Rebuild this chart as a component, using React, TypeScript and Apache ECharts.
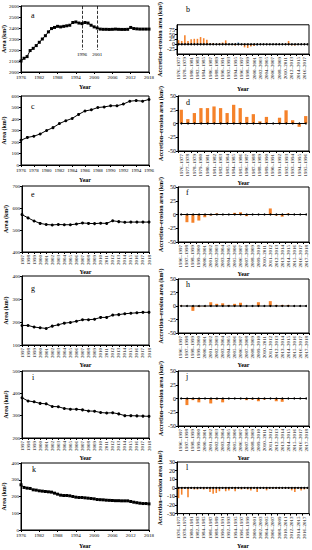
import React, { useEffect, useRef } from "react";
import * as echarts from "echarts";

const FONT = "Liberation Serif";

const yearsLong = ["1976","1977","1978","1979","1980","1981","1982","1983","1984","1985","1986","1987","1988","1989","1990","1991","1992","1993","1994","1995","1996","1997","1998","1999","2000","2001","2002","2003","2004","2005","2006","2007","2008","2009","2010","2011","2012","2013","2014","2015","2016","2017","2018"];
const pairsLong = ["1976–1977","1977–1978","1978–1979","1979–1980","1980–1981","1981–1982","1982–1983","1983–1984","1984–1985","1985–1986","1986–1987","1987–1988","1988–1989","1989–1990","1990–1991","1991–1992","1992–1993","1993–1994","1994–1995","1995–1996","1996–1997","1997–1998","1998–1999","1999–2000","2000–2001","2001–2002","2002–2003","2003–2004","2004–2005","2005–2006","2006–2007","2007–2008","2008–2009","2009–2010","2010–2011","2011–2012","2012–2013","2013–2014","2014–2015","2015–2016","2016–2017","2017–2018"];
const yearsEarly = ["1976","1977","1978","1979","1980","1981","1982","1983","1984","1985","1986","1987","1988","1989","1990","1991","1992","1993","1994","1995","1996"];
const pairsEarly = ["1976–1977","1977–1978","1978–1979","1979–1980","1980–1981","1981–1982","1982–1983","1983–1984","1984–1985","1985–1986","1986–1987","1987–1988","1988–1989","1989–1990","1990–1991","1991–1992","1992–1993","1993–1994","1994–1995","1995–1996"];
const yearsLate = ["1997","1998","1999","2000","2001","2002","2003","2004","2005","2006","2007","2008","2009","2010","2011","2012","2013","2014","2015","2016","2017","2018"];
const pairsLate = ["1996–1997","1997–1998","1998–1999","1999–2000","2000–2001","2001–2002","2002–2003","2003–2004","2004–2005","2005–2006","2006–2007","2007–2008","2008–2009","2009–2010","2010–2011","2011–2012","2012–2013","2013–2014","2014–2015","2015–2016","2016–2017","2017–2018"];

const areaA = [2100,2125,2140,2195,2215,2240,2270,2300,2330,2365,2395,2405,2415,2410,2415,2420,2425,2450,2455,2445,2440,2450,2445,2425,2410,2400,2390,2388,2388,2387,2388,2390,2388,2387,2387,2388,2405,2395,2392,2390,2390,2390,2390];
const changeB = [21,17,46,17,26,28,28,37,31,23,7,7,-4,5,9,20,0,0,-7,9,0,-16,-19,-11,-9,-7,-1,-1,1,-1,1,-3,1,-1,1,17,-6,-6,-1,-1,0,0];
const blueB = ["1995–1996","2001–2002"];
const areaC = [215,240,250,270,300,325,360,385,405,440,470,480,500,505,515,515,530,555,560,555,570];
const changeD = [25,8,19,28,28,31,28,19,34,28,12,17,4,12,0,10.5,24,6,-6,13.5];
const areaE = [570,555,541,530,525,523,525,524,524,527,532,530,529,531,530,542,538,535,536,536,536,536];
const changeF = [0,-14,-15,-11,-5,-2,2,-1,0,3,4,-3,0,0,-1,11,-2,-4,2,0,0,0];
const areaG = [185,185,178,175,172,182,188,195,198,203,210,210,212,220,220,230,232,236,238,240,242,242];
const changeH = [1,0,-9,-2,-1,7,4,5,2,4,6,0,0,7,0,9,2,2,2,0,0,0];
const areaI = [380,366,362,355,353,341,340,332,329,329,326,321,320,314,312,313,308,300,300,299,298,297];
const changeJ = [0,-12,-3,-7,-1,-9,-2,-7,-1,0,-1,-3,-2,-5,-2,0,-5,-6,0,0,-1,0];
const areaK = [270,254,250,248,240,238,234,232,230,228,226,220,214,208,206,206,204,200,196,194,194,192,190,188,186,182,181,180,178,177,176,175,175,174,174,174,170,166,163,160,158,158,156];
const changeL = [-12,-8,-1,-11,-1,-2,-2,-1,-2,-1,-5,-7,-6,-4,-1,-4,-3,-1,-4,-1,-2,-1,-2,-3,-1,-5,-1,-1,-3,-1,-1,-1,-1,-1,-1,-1,-3,-5,-1,-3,-2,-1];

const panelLetters = ["a","b","c","d","e","f","g","h","i","j","k","l"];
const markYears = ["1996","2001"];

const ORANGE = "#F5822A";
const BLUE = "#4A8BD0";

export default function App() {
  const ref = useRef<HTMLDivElement>(null);
  useEffect(() => {
    if (!ref.current) return;
    const chart = echarts.init(ref.current, undefined, { renderer: "svg" });

    const grids = [
      { left: 21, top: 6, width: 128, height: 66 },
      { left: 177, top: 3, width: 132, height: 51 },
      { left: 21, top: 96, width: 128, height: 69 },
      { left: 178, top: 96, width: 131, height: 55 },
      { left: 22, top: 186, width: 127, height: 66 },
      { left: 178, top: 187, width: 131, height: 55 },
      { left: 22, top: 276, width: 127, height: 69 },
      { left: 178, top: 279, width: 131, height: 54 },
      { left: 22, top: 371, width: 127, height: 67 },
      { left: 178, top: 371, width: 131, height: 55 },
      { left: 21, top: 463, width: 128, height: 67 },
      { left: 177, top: 462, width: 132, height: 55 },
    ];
    const letterPos = [
      [31, 11], [186, 5], [31, 102], [186, 98], [31, 190], [186, 188],
      [31, 284], [186, 280], [32, 373], [186, 372], [32, 465], [186, 463],
    ];

    const nameStyle = { fontSize: 6, fontWeight: "bold", color: "#000", fontFamily: FONT };
    const xAx = (gi: number, cats: string[], line: boolean, interval: number, rotate: number, nameGap: number) => ({
      type: "category",
      gridIndex: gi,
      data: cats,
      boundaryGap: !line,
      axisLine: { show: true, onZero: false, lineStyle: { color: "#000", width: 1 } },
      axisTick: { show: true, length: 2, inside: false, interval: line ? interval : "auto", lineStyle: { color: "#000" } },
      axisLabel: { interval, rotate, fontSize: 5, color: "#000", margin: 3, fontFamily: FONT },
      splitLine: { show: false },
      name: "Year",
      nameLocation: "middle",
      nameGap,
      nameTextStyle: nameStyle,
    });
    const yAx = (gi: number, min: number, max: number, interval: number, name: string, nameGap: number, fontSize = 5) => ({
      type: "value",
      gridIndex: gi,
      min,
      max,
      interval,
      axisLine: { show: true, onZero: false, lineStyle: { color: "#000", width: 1 } },
      axisTick: { show: true, length: 2, lineStyle: { color: "#000" } },
      axisLabel: { show: true, hideOverlap: false, fontSize, color: "#000", margin: 2, fontFamily: FONT, formatter: (v: number) => String(v) },
      splitLine: { show: false },
      name,
      nameLocation: "middle",
      nameGap,
      nameMoveOverlap: false,
      nameTextStyle: nameStyle,
    });

    const AREA = "Area (km²)";
    const ACC = "Accretion–erosion area (km²)";

    const xAxis = [
      xAx(0, yearsLong, true, 5, 0, 12),
      xAx(1, pairsLong, false, 1, 90, 32),
      xAx(2, yearsEarly, true, 1, 0, 12),
      xAx(3, pairsEarly, false, 0, 90, 28),
      xAx(4, yearsLate, true, 0, 90, 16),
      xAx(5, pairsLate, false, 0, 90, 28),
      xAx(6, yearsLate, true, 0, 90, 15),
      xAx(7, pairsLate, false, 0, 90, 29),
      xAx(8, yearsLate, true, 0, 90, 15),
      xAx(9, pairsLate, false, 0, 90, 28),
      xAx(10, yearsLong, true, 5, 0, 13),
      xAx(11, pairsLong, false, 1, 90, 29),
    ];
    const yAxis = [
      yAx(0, 2000, 2600, 100, AREA, 14),
      yAx(1, -50, 100, 25, ACC, 14, 6),
      yAx(2, 0, 600, 100, AREA, 14),
      yAx(3, -50, 50, 25, ACC, 14, 6),
      yAx(4, 400, 700, 100, AREA, 13),
      yAx(5, -50, 50, 25, ACC, 14, 6),
      yAx(6, 100, 400, 100, AREA, 13),
      yAx(7, -50, 50, 25, ACC, 14, 6),
      yAx(8, 200, 500, 100, AREA, 13),
      yAx(9, -50, 50, 25, ACC, 14, 6),
      yAx(10, 0, 400, 100, AREA, 14),
      yAx(11, -30, 30, 10, ACC, 14, 6),
    ];

    const lineSeries = (gi: number, data: number[], symbol: string, extra: any = {}) => ({
      type: "line",
      xAxisIndex: gi,
      yAxisIndex: gi,
      data,
      symbol,
      symbolSize: 3,
      showSymbol: true,
      showAllSymbol: true,
      itemStyle: { color: "#000" },
      lineStyle: { color: "#000", width: 1 },
      silent: true,
      ...extra,
    });
    const barSeries = (gi: number, cats: string[], data: number[], blues: string[] = []) => [
      {
        type: "bar",
        xAxisIndex: gi,
        yAxisIndex: gi,
        barWidth: "50%",
        data: data.map((v, i) => ({ value: v, itemStyle: { color: blues.includes(cats[i]) ? BLUE : ORANGE } })),
      },
      {
        type: "line",
        xAxisIndex: gi,
        yAxisIndex: gi,
        data: data.map(() => 0),
        symbol: "circle",
        symbolSize: 2,
        showSymbol: true,
        showAllSymbol: true,
        itemStyle: { color: "#000" },
        lineStyle: { color: "#000", width: 1 },
        z: 3,
      },
    ];

    const series: any[] = [
      lineSeries(0, areaA, "rect", {
        markLine: {
          symbol: "none",
          silent: true,
          lineStyle: { color: "#000", type: "dashed", width: 0.8 },
          label: { show: true, position: "end", fontSize: 5, color: "#000", fontFamily: FONT, distance: 2 },
          data: markYears.map((y) => [
            { coord: [y, 2600] },
            { coord: [y, 2200], label: { formatter: y } },
          ]),
        },
      }),
      ...barSeries(1, pairsLong, changeB, blueB),
      lineSeries(2, areaC, "circle"),
      ...barSeries(3, pairsEarly, changeD),
      lineSeries(4, areaE, "circle"),
      ...barSeries(5, pairsLate, changeF),
      lineSeries(6, areaG, "circle"),
      ...barSeries(7, pairsLate, changeH),
      lineSeries(8, areaI, "circle"),
      ...barSeries(9, pairsLate, changeJ),
      lineSeries(10, areaK, "rect"),
      ...barSeries(11, pairsLong, changeL),
    ];

    const graphic = panelLetters.map((t, i) => ({
      type: "text",
      left: letterPos[i][0],
      top: letterPos[i][1],
      style: { text: t, fontSize: 8, fontFamily: FONT, fill: "#000" },
      z: 10,
    }));

    chart.setOption({
      animation: false,
      textStyle: { fontFamily: FONT },
      grid: grids.map((g) => ({ ...g, show: true, borderColor: "#000", borderWidth: 1, backgroundColor: "transparent" })),
      xAxis,
      yAxis,
      series,
      graphic,
    } as any);
    return () => chart.dispose();
  }, []);
  return (
    <div
      ref={ref}
      style={{ position: "absolute", left: 0, top: 0, width: 312, height: 550, background: "#fff" }}
    />
  );
}
